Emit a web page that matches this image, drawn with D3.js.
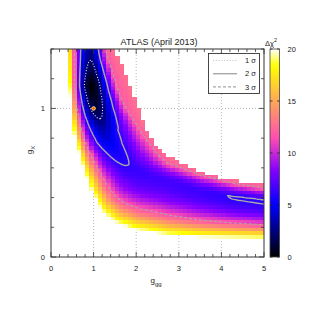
<!DOCTYPE html>
<html><head><meta charset="utf-8">
<script src="https://cdn.jsdelivr.net/npm/d3@7"></script>
<style>body{margin:0;background:#fff}svg{display:block}text{font-family:"Liberation Sans",Arial,sans-serif;fill:#222}</style>
</head><body><svg id="c" width="315" height="315"></svg>
<script>
// ---- data ----
const titleText = "ATLAS (April 2013)";
const xTicks = [0, 1, 2, 3, 4, 5];
const yTicks = [0, 1];
const cbTicks = [0, 5, 10, 15, 20];
const sigmaLabels = ["1 σ", "2 σ", "3 σ"];
const sigmaLevels = [2.3, 6.18, 11.83];
// valley (minimum of Δχ² across the band) and its depth
const valleyGgg = [0.915, 0.939, 0.939, 0.962, 1.033, 1.103, 1.291, 1.502, 1.831, 2.324, 2.723, 3.498, 4.272, 5.000, 6.315];
const valleyGx  = [1.730, 1.528, 1.326, 1.158, 1.057, 0.983, 0.821, 0.734, 0.619, 0.552, 0.518, 0.451, 0.406, 0.379, 0.357];
const valleyMin = [4.5, 3.5, 2.3, 0.0, 0.6, 1.5, 4.0, 5.2, 6.2, 6.6, 6.7, 6.5, 6.12, 6.06, 6.0];
// lower-left edge where Δχ² reaches 20
const edge20Ggg = [0.352, 0.399, 0.423, 0.469, 0.540, 0.634, 0.775, 0.939, 1.174, 1.502, 1.925, 2.723, 3.498, 5.000, 6.315];
const edge20Gx  = [1.730, 1.400, 1.205, 0.976, 0.821, 0.720, 0.585, 0.451, 0.316, 0.236, 0.188, 0.148, 0.135, 0.128, 0.125];
// upper-right 3σ line
const up3Ggg = [1.221, 1.268, 1.385, 1.542, 1.690, 1.854, 2.160, 2.512, 2.723, 3.498, 4.272, 5.000, 6.315];
const up3Gx  = [1.730, 1.400, 1.292, 1.138, 1.037, 0.956, 0.821, 0.687, 0.633, 0.552, 0.496, 0.462, 0.448];
// upper-right end of the computed region
const cutGgg = [1.455, 1.432, 1.620, 1.784, 1.972, 2.136, 2.324, 2.559, 3.028, 3.498, 4.202, 5.000, 6.315];
const cutGx  = [1.730, 1.400, 1.313, 1.205, 1.057, 0.922, 0.808, 0.720, 0.633, 0.572, 0.518, 0.497, 0.490];
const cutLevel = 12.8;
const smPoint = [1, 1];

// ---- layout ----
const svg = d3.select("#c");
const x = d3.scaleLinear().domain([0, 5]).range([51, 264]);
const y = d3.scaleLinear().domain([0, 1.4]).range([257, 49]);
const cb = d3.scaleLinear().domain([0, 20]).range([257, 49]);

function palette(v) {
  const t = Math.max(0, Math.min(1, v / 20));
  const cl = u => Math.max(0, Math.min(1, u));
  const r = cl(t / 0.32 - 0.78125), g = cl(2 * t - 0.84);
  let b;
  if (t < 0.25) b = 4 * t; else if (t < 0.42) b = 1; else if (t < 0.92) b = -2 * t + 1.84; else b = t / 0.08 - 11.5;
  b = cl(b);
  return d3.rgb(r * 255, g * 255, b * 255).formatHex();
}

const toPx = (gs, xs) => gs.map((g, i) => [x(g), y(xs[i])]);
const C = toPx(valleyGgg, valleyGx), E20 = toPx(edge20Ggg, edge20Gx), S3 = toPx(up3Ggg, up3Gx), CUT = toPx(cutGgg, cutGx);

function nearest(poly, px, py) {
  let best = { d: Infinity };
  for (let i = 0; i < poly.length - 1; i++) {
    const [ax, ay] = poly[i], [bx, by] = poly[i + 1];
    const dx = bx - ax, dy = by - ay, L2 = dx * dx + dy * dy;
    let t = ((px - ax) * dx + (py - ay) * dy) / L2;
    t = Math.max(0, Math.min(1, t));
    const qx = ax + t * dx, qy = ay + t * dy;
    const d = Math.hypot(px - qx, py - qy);
    if (d < best.d - 1e-9) best = { d, side: dx * (py - ay) - dy * (px - ax), i, t };
  }
  return best;
}
function chi(px, py) {
  const c = nearest(C, px, py);
  const m = valleyMin[c.i] + (valleyMin[c.i + 1] - valleyMin[c.i]) * c.t;
  if (c.side >= 0) {
    const L = nearest(E20, px, py);
    if (L.side > 0) return 20.01 + L.d * 0.5;
    const f = c.d / (c.d + L.d);
    return m + (20 - m) * f * f;
  } else {
    const U = nearest(S3, px, py);
    if (U.side > 0) {
      const f = c.d / (c.d + U.d);
      return m + (sigmaLevels[2] - m) * Math.pow(f, 1.5);
    }
    const K = nearest(CUT, px, py);
    if (K.side < 0) return null;
    const g = U.d / (U.d + K.d);
    return sigmaLevels[2] + (cutLevel - sigmaLevels[2]) * g;
  }
}

const defs = svg.append("defs");
defs.append("clipPath").attr("id", "plot").append("rect").attr("x", 51).attr("y", 49).attr("width", 213).attr("height", 208);

// grid
const grid = svg.append("g").attr("stroke", "#aaa").attr("stroke-width", 0.8).attr("stroke-dasharray", "1,2");
xTicks.filter(v => v > 0 && v < 5).forEach(v => grid.append("line").attr("x1", x(v)).attr("x2", x(v)).attr("y1", 49).attr("y2", 257));
yTicks.filter(v => v > 0).forEach(v => grid.append("line").attr("x1", 51).attr("x2", 264).attr("y1", y(v)).attr("y2", y(v)));

// heat map cells
const heat = svg.append("g").attr("clip-path", "url(#plot)").attr("shape-rendering", "crispEdges");
const dx = 0.1, dy = 0.025;
for (let gi = 0; gi < 50; gi++) {
  for (let gj = 0; gj < 56; gj++) {
    const x0 = x(gi * dx), x1 = x((gi + 1) * dx), y0 = y((gj + 1) * dy), y1 = y(gj * dy);
    const v = chi((x0 + x1) / 2, (y0 + y1) / 2);
    if (v === null || v > 20) continue;
    heat.append("rect").attr("x", x0).attr("y", y0).attr("width", x1 - x0 + 0.4).attr("height", y1 - y0 + 0.4).attr("fill", palette(v));
  }
}

// contours
const s = 1.5, cx0 = 38, cy0 = 36;
const nx = Math.ceil((277 - cx0) / s), ny = Math.ceil((270 - cy0) / s);
const vals = new Array(nx * ny);
for (let j = 0; j < ny; j++) for (let i = 0; i < nx; i++) {
  const v = chi(cx0 + (i + 0.5) * s, cy0 + (j + 0.5) * s);
  vals[j * nx + i] = v === null ? 40 : v;
}
const conts = d3.contours().size([nx, ny]).thresholds(sigmaLevels)(vals);
const gpath = d3.geoPath(d3.geoTransform({ point(px, py) { this.stream.point(cx0 + px * s, cy0 + py * s); } }));
const styles = [
  { stroke: "#e6e6e6", dash: "1,1.8", w: 1.1 },
  { stroke: "#a8a8a8", dash: null, w: 1.4 },
  { stroke: "#a8a8a8", dash: "3,2", w: 1.1 }
];
const cg = svg.append("g").attr("clip-path", "url(#plot)").attr("fill", "none");
conts.forEach((c, k) => {
  const st = styles[k];
  cg.append("path").attr("d", gpath(c)).attr("stroke", st.stroke).attr("stroke-width", st.w).attr("stroke-dasharray", st.dash);
});

// SM point
svg.append("circle").attr("cx", x(smPoint[0])).attr("cy", y(smPoint[1])).attr("r", 1.8).attr("fill", "#ff5a00").attr("stroke", "#ffe680").attr("stroke-width", 0.9);

// frame + ticks
svg.append("rect").attr("x", 51).attr("y", 49).attr("width", 213).attr("height", 208).attr("fill", "none").attr("stroke", "#333").attr("stroke-width", 1);
const tk = svg.append("g").attr("stroke", "#333").attr("stroke-width", 0.8);
d3.range(0, 5.0001, 0.2).forEach(v => {
  const major = Math.abs(v - Math.round(v)) < 1e-6, L = major ? 5 : 3;
  tk.append("line").attr("x1", x(v)).attr("x2", x(v)).attr("y1", 257).attr("y2", 257 - L);
  tk.append("line").attr("x1", x(v)).attr("x2", x(v)).attr("y1", 49).attr("y2", 49 + L);
});
d3.range(0, 1.4001, 0.2).forEach(v => {
  const major = yTicks.some(t => Math.abs(t - v) < 1e-6), L = major ? 5 : 3;
  tk.append("line").attr("x1", 51).attr("x2", 51 + L).attr("y1", y(v)).attr("y2", y(v));
  tk.append("line").attr("x1", 264).attr("x2", 264 - L).attr("y1", y(v)).attr("y2", y(v));
});
xTicks.forEach(v => svg.append("text").attr("x", x(v)).attr("y", 271).attr("text-anchor", "middle").attr("font-size", 7.5).text(v));
yTicks.forEach(v => svg.append("text").attr("x", 45).attr("y", y(v) + 2.7).attr("text-anchor", "end").attr("font-size", 7.5).text(v));

// axis titles
const xl = svg.append("text").attr("x", 156).attr("y", 283).attr("text-anchor", "middle").attr("font-size", 8);
xl.append("tspan").text("g");
xl.append("tspan").attr("dy", 2.5).attr("font-size", 6).text("gg");
const yl = svg.append("text").attr("transform", "translate(32,150) rotate(-90)").attr("text-anchor", "middle").attr("font-size", 8);
yl.append("tspan").text("g");
yl.append("tspan").attr("dy", 2.5).attr("font-size", 6).text("X");

// title
svg.append("text").attr("x", 159).attr("y", 44.5).attr("text-anchor", "middle").attr("font-size", 9).text(titleText);

// colorbar
const grad = defs.append("linearGradient").attr("id", "cbg").attr("x1", 0).attr("y1", 1).attr("x2", 0).attr("y2", 0);
d3.range(0, 20.001, 0.5).forEach(v => grad.append("stop").attr("offset", v / 20).attr("stop-color", palette(v)));
svg.append("rect").attr("x", 270).attr("y", 49).attr("width", 9.5).attr("height", 208).attr("fill", "url(#cbg)").attr("stroke", "#444").attr("stroke-width", 0.8);
const ctk = svg.append("g").attr("stroke", "#222").attr("stroke-width", 0.8);
cbTicks.forEach(v => {
  ctk.append("line").attr("x1", 270).attr("x2", 272.5).attr("y1", cb(v)).attr("y2", cb(v));
  ctk.append("line").attr("x1", 277).attr("x2", 279.5).attr("y1", cb(v)).attr("y2", cb(v));
  svg.append("text").attr("x", 287.5).attr("y", cb(v) + 2.7).attr("font-size", 7.5).text(v);
});
const ct = svg.append("text").attr("x", 271).attr("y", 45.5).attr("text-anchor", "middle").attr("font-size", 7.5);
ct.append("tspan").text("Δχ");
ct.append("tspan").attr("dy", -3.5).attr("font-size", 5.5).text("2");

// legend
const lg = svg.append("g");
lg.append("rect").attr("x", 208.5).attr("y", 53.5).attr("width", 51).attr("height", 40).attr("fill", "#fff").attr("stroke", "#333").attr("stroke-width", 0.9);
sigmaLabels.forEach((lab, k) => {
  const ly = 60.5 + k * 13.2, st = styles[k];
  lg.append("line").attr("x1", 213).attr("x2", 237).attr("y1", ly).attr("y2", ly)
    .attr("stroke", k === 0 ? "#bbb" : st.stroke).attr("stroke-width", st.w).attr("stroke-dasharray", st.dash);
  lg.append("text").attr("x", 256).attr("y", ly + 2.7).attr("text-anchor", "end").attr("font-size", 7.5).text(lab);
});
</script></body></html>
